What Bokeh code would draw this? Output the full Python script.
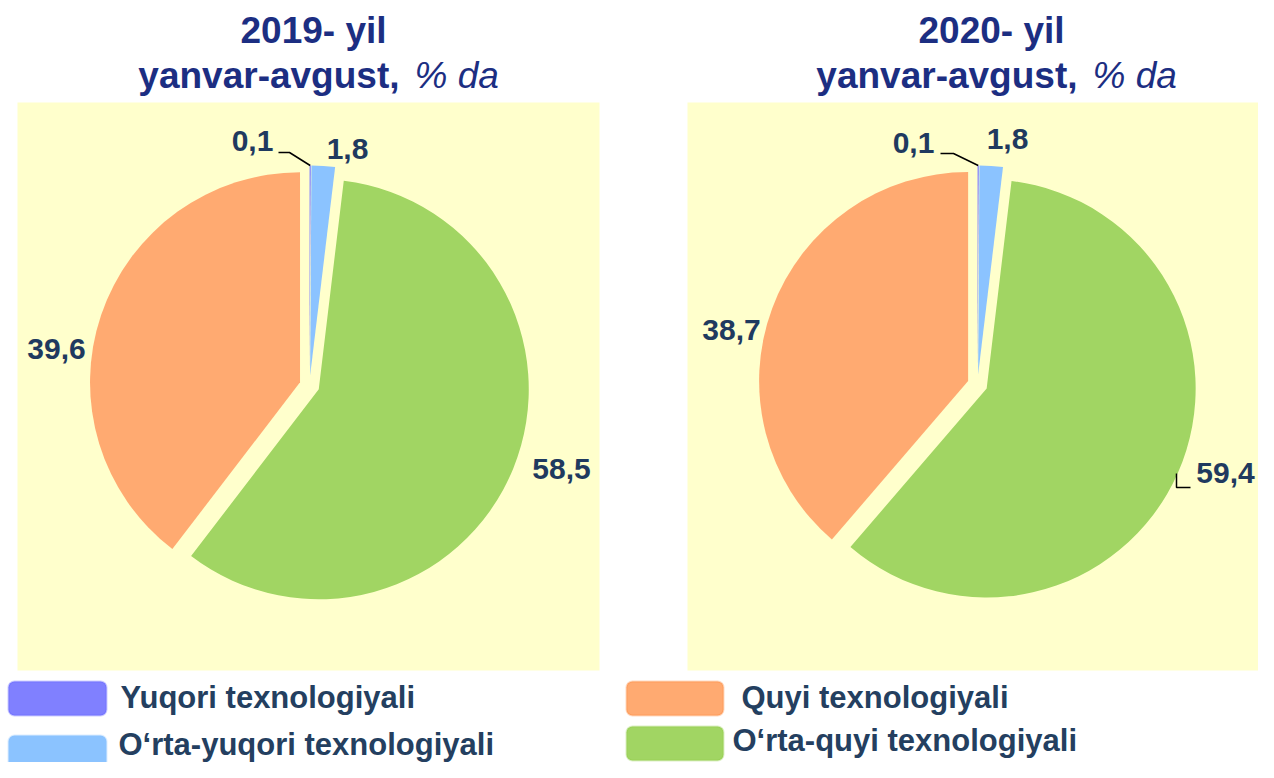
import math
from bokeh.plotting import figure
from bokeh.models import Range1d, BoxAnnotation, ColumnDataSource
from bokeh.core.properties import value
from bokeh.embed import file_html
from bokeh.resources import INLINE

# ---------------- data ----------------
categories = ["Yuqori texnologiyali", "O\u2018rta-yuqori texnologiyali",
              "O\u2018rta-quyi texnologiyali", "Quyi texnologiyali"]
values_2019 = [0.1, 1.8, 58.5, 39.6]
values_2020 = [0.1, 1.8, 59.4, 38.7]
colors = ["#8080ff", "#8bc3ff", "#a1d563", "#ffaa71"]
border_colors = ["#5a5aff", "#8bc3ff", "#8ccb40", "#fb8030"]
titles = ["2019- yil", "2020- yil"]
subtitle_bold = "yanvar-avgust,"
subtitle_italic = "% da"

# ---------------- layout ----------------
W, H = 1258, 762
FONT = "Liberation Sans"
TITLE_C = "#1c2e82"
LABEL_C = "#1f3a5f"
LEGEND_C = "#243f60"
TFIX = 13  # baseline correction for text rendering


def Y(yref):
    return H - yref


def TY(baseline):
    return Y(baseline - TFIX)


p = figure(width=W, height=H, x_range=Range1d(0, W), y_range=Range1d(0, H),
           output_backend="svg", toolbar_location=None, min_border=0,
           x_axis_location=None, y_axis_location=None)
p.grid.visible = False
p.outline_line_color = None
p.background_fill_color = "white"
p.border_fill_color = "white"

pies = [
    dict(values=values_2019, title=titles[0], cx=309, cy=385, r=210,
         panel=(17, 599, 102, 670), tx=313,
         labels=[(252, 142), (347, 150), (561, 470), (56, 350)],
         leader=[(278, 152), (289, 152)]),
    dict(values=values_2020, title=titles[1], cx=977, cy=384, r=209,
         panel=(687, 1270, 102, 670), tx=991,
         labels=[(913, 144), (1007, 140), (1225, 474), (731, 331)],
         leader=[(940, 153), (953, 153)]),
]
EXPLODE = 10

for pie in pies:
    l, r_, t, b = pie["panel"]
    p.quad(left=[l], right=[r_], top=[Y(t)], bottom=[Y(b)],
           fill_color="#ffffcc", line_color=None)

    vals = pie["values"]
    total = sum(vals)
    cum = 0.0
    xs, ys, sa, ea = [], [], [], []
    for v in vals:
        f0 = cum / total
        f1 = (cum + v) / total
        cum += v
        a_s = math.pi / 2 - 2 * math.pi * f1
        a_e = math.pi / 2 - 2 * math.pi * f0
        mid = (a_s + a_e) / 2
        xs.append(pie["cx"] + EXPLODE * math.cos(mid))
        ys.append(Y(pie["cy"]) + EXPLODE * math.sin(mid))
        sa.append(a_s)
        ea.append(a_e)
    src = ColumnDataSource(dict(x=xs, y=ys, s=sa, e=ea, c=colors))
    p.wedge(x="x", y="y", radius=pie["r"], start_angle="s", end_angle="e",
            fill_color="c", line_color=None, source=src)

    # data labels
    lx = [pt[0] for pt in pie["labels"]]
    ly = [TY(pt[1] + 11) for pt in pie["labels"]]
    txt = [f"{v:.1f}".replace(".", ",") for v in vals]
    p.text(x=lx, y=ly, text=txt, text_font=value(FONT), text_font_style="bold",
           text_font_size="30px", text_color=LABEL_C, text_align="center",
           text_baseline="alphabetic")

    # leader line to first (smallest) slice
    mid0 = (sa[0] + ea[0]) / 2
    ox = xs[0] + pie["r"] * math.cos(mid0)
    oy = ys[0] + pie["r"] * math.sin(mid0)
    p.line(x=[pie["leader"][0][0], pie["leader"][1][0], ox],
           y=[Y(pie["leader"][0][1]), Y(pie["leader"][1][1]), oy],
           line_color="black", line_width=1.5)

    # titles
    p.text(x=[pie["tx"]], y=[TY(43)], text=[pie["title"]], text_font=value(FONT),
           text_font_style="bold", text_font_size="37px", text_color=TITLE_C,
           text_align="center", text_baseline="alphabetic")
    p.text(x=[pie["tx"] + 86], y=[TY(88)], text=[subtitle_bold], text_font=value(FONT),
           text_font_style="bold", text_font_size="37px", text_color=TITLE_C,
           text_align="right", text_baseline="alphabetic")
    p.text(x=[pie["tx"] + 101], y=[TY(88)], text=[subtitle_italic], text_font=value(FONT),
           text_font_style="italic", text_font_size="37px", text_color=TITLE_C,
           text_align="left", text_baseline="alphabetic")

# small leader near 59,4 label
p.line(x=[1176, 1176, 1190], y=[Y(473), Y(487), Y(487)], line_color="black", line_width=1.5)

# ---------------- legend ----------------
legend_layout = [
    # (category index, box left, box right, box top, box bottom, text x, baseline)
    (0, 8, 106, 681, 715, 120, 710),
    (1, 8, 106, 735, 768, 118, 757),
    (3, 626, 723, 681, 715, 741, 710),
    (2, 626, 723, 726, 760, 732, 753),
]
for idx, bl, br, bt, bb, tx, ty in legend_layout:
    p.add_layout(BoxAnnotation(left=bl, right=br, top=Y(bt), bottom=Y(bb),
                               fill_color=colors[idx], fill_alpha=1.0,
                               line_color=border_colors[idx], line_width=2,
                               border_radius=6))
    p.text(x=[tx], y=[TY(ty)], text=[categories[idx]], text_font=value(FONT),
           text_font_style="bold", text_font_size="31px", text_color=LEGEND_C,
           text_align="left", text_baseline="alphabetic")

open("out.html", "w").write(file_html(p, INLINE))
